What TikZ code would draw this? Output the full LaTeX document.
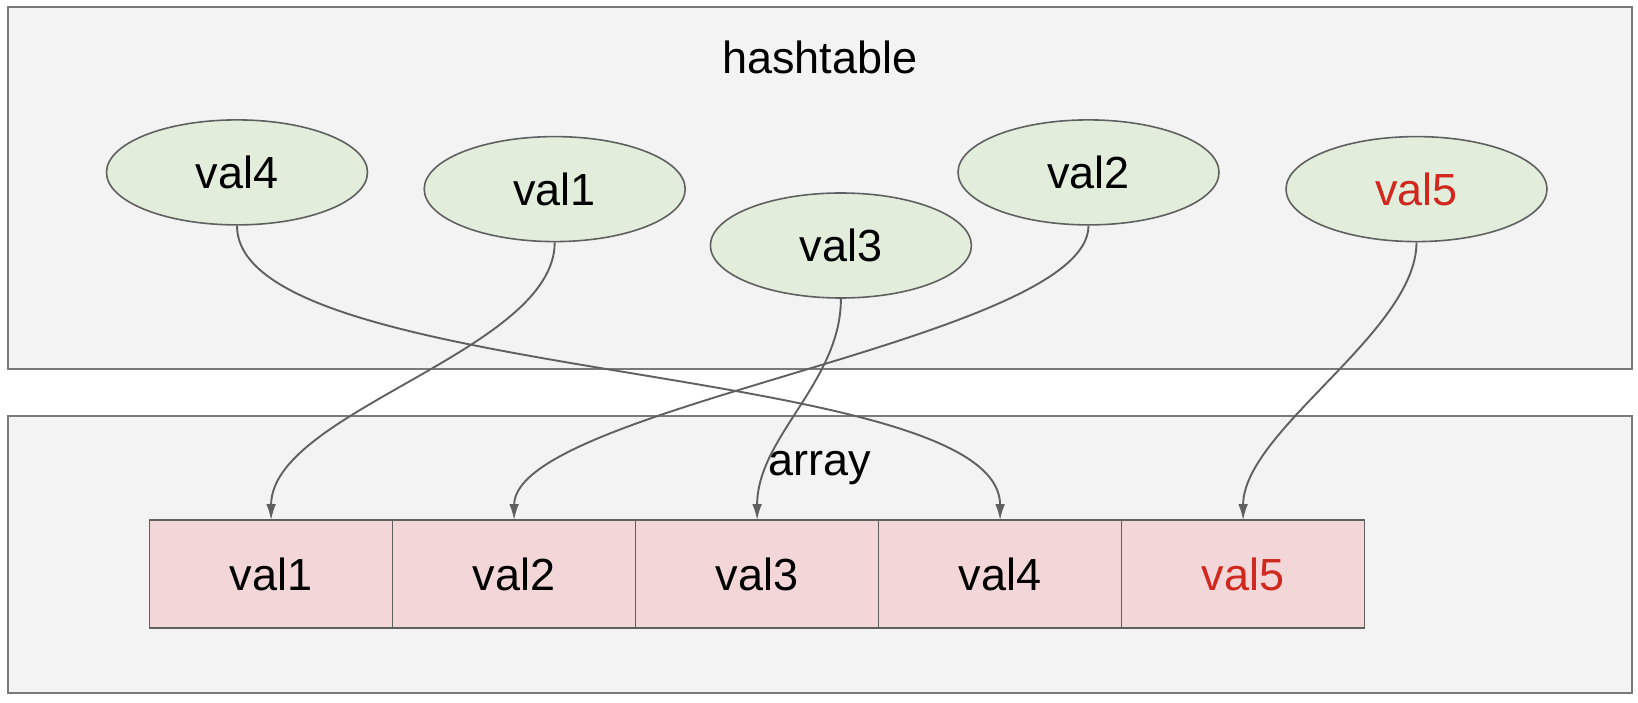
\documentclass[tikz,border=0pt]{standalone}
\usepackage{fontspec}
\setmainfont{Liberation Sans}
\usetikzlibrary{positioning}
\usetikzlibrary{shapes.geometric}
\usetikzlibrary{arrows.meta}
\definecolor{panelbg}{HTML}{F3F3F4}
\definecolor{panelline}{HTML}{7A7A7A}
\definecolor{hashfill}{HTML}{E3EDDC}
\definecolor{cellfill}{HTML}{F3D6D7}
\definecolor{newred}{HTML}{D0281F}
\definecolor{linkgray}{HTML}{606060}
\tikzset{
  panel/.style={draw=panelline,fill=panelbg,line width=1pt},
  hashval/.style={ellipse,draw=linkgray,fill=hashfill,line width=0.8pt,
    minimum width=130.5pt,minimum height=52.5pt,inner sep=0pt},
  cell/.style={rectangle,draw=linkgray,fill=cellfill,line width=0.8pt,
    minimum width=121.5pt,minimum height=53.8pt,outer sep=0pt,inner sep=0pt},
  link/.style={draw=linkgray,line width=0.95pt,
    -{Latex[length=8pt,width=4.8pt]}},
}

\begin{document}
\begin{tikzpicture}[x=0.5pt,y=0.5pt,font=\fontsize{22.5}{27}\selectfont]
        \useasboundingbox (0,0) rectangle (1638,702);
        %% panels
        \path[panel] (8.4,333.3) rectangle (1631.7,694.7);
        \path[panel] (8.4,9.4) rectangle (1631.7,286.2);
        \node (ht) at (820,644.5) {hashtable};
        \node (ar) at (820,234) {array};
        %% hashtable entries
        \node[hashval] (e4) at (237,529.6) {val4};
        \node[hashval] (e1) at (554.7,512.9) {val1};
        \node[hashval] (e3) at (840.9,456.5) {val3};
        \node[hashval] (e2) at (1088.5,529.6) {val2};
        \node[hashval] (e5) at (1416.5,512.9) {\textcolor{newred}{val5}};
        %% array cells
        \node[cell] (r1) at (271.1,128) {val1};
        \node[cell,right=0pt of r1] (r2) {val2};
        \node[cell,right=0pt of r2] (r3) {val3};
        \node[cell,right=0pt of r3] (r4) {val4};
        \node[cell,right=0pt of r4] (r5) {\textcolor{newred}{val5}};
        % 各个值连到数组
        \draw[link] (e4.south) to[out=-90,in=90,looseness=0.5] (r4.north);
        \draw[link] (e1.south) to[out=-90,in=90,looseness=0.7] (r1.north);
        \draw[link] (e2.south) to[out=-90,in=90,looseness=0.45] (r2.north);
        \draw[link] (e3.south) to[out=-90,in=90,looseness=0.9] (r3.north);
        \draw[link] (e5.south) to[out=-90,in=90,looseness=0.7] (r5.north);
\end{tikzpicture}
\end{document}
